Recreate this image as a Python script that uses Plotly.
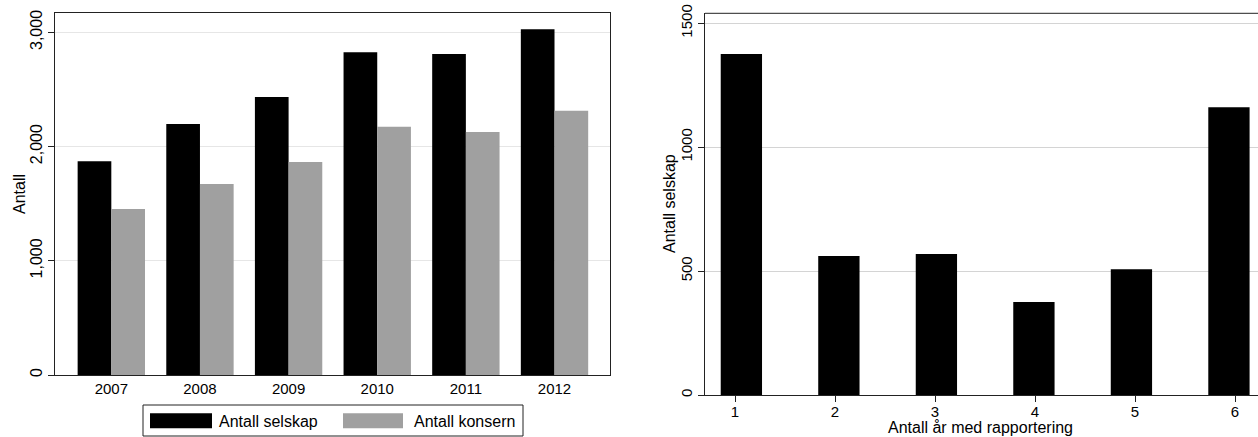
import plotly.graph_objects as go

# Figure size in px
W, H = 1258, 437

# Left panel: companies and groups per year
years = ["2007", "2008", "2009", "2010", "2011", "2012"]
antall_selskap = [1872, 2197, 2435, 2826, 2810, 3028]
antall_konsern = [1453, 1672, 1866, 2174, 2127, 2313]

# Right panel: companies by number of reporting years
rapport_aar = [1, 2, 3, 4, 5, 6]
selskap_per_aar = [1376, 561, 569, 375, 507, 1161]

left_ticks = [0, 1000, 2000, 3000]
right_ticks = [0, 500, 1000, 1500]

BLACK = "#000000"
GREY = "#a0a0a0"
FONT = "Liberation Sans, Arial, sans-serif"


def px_x(p):
    return p / W


def px_y(p):
    return 1 - p / H


fig = go.Figure()

fig.add_trace(go.Bar(x=years, y=antall_selskap, name="Antall selskap",
                     marker=dict(color=BLACK, line=dict(width=0)),
                     xaxis="x", yaxis="y"))
fig.add_trace(go.Bar(x=years, y=antall_konsern, name="Antall konsern",
                     marker=dict(color=GREY, line=dict(width=0)),
                     xaxis="x", yaxis="y"))

fig.add_trace(go.Bar(x=[str(v) for v in rapport_aar], y=selskap_per_aar,
                     name="Antall selskap", showlegend=False, width=0.4236,
                     marker=dict(color=BLACK, line=dict(width=0)),
                     xaxis="x2", yaxis="y2"))

# Invisible trace that binds the tick axis of the right panel
fig.add_trace(go.Scatter(x=[rapport_aar[0]], y=[0], mode="markers",
                         marker=dict(opacity=0), hoverinfo="skip",
                         showlegend=False, xaxis="x3", yaxis="y2"))

tick_font = dict(family=FONT, size=15, color="black")
ytick_font = dict(family=FONT, size=16, color="black")
text_font = dict(family=FONT, size=16, color="black")

fig.update_layout(
    width=W, height=H,
    margin=dict(l=0, r=0, t=0, b=0),
    paper_bgcolor="white", plot_bgcolor="white",
    font=tick_font,
    showlegend=False,
    barmode="group",
    bargap=0.24, bargroupgap=0,
    xaxis=dict(domain=[px_x(55.3), px_x(610)], anchor="y",
               type="category", range=[-0.632, 5.626],
               showline=True, linecolor="#222", linewidth=1, mirror=True,
               ticks="", showgrid=False, tickfont=tick_font,
               automargin=False),
    yaxis=dict(domain=[px_y(375), px_y(13.3)], anchor="x",
               range=[0, 3167], tickvals=left_ticks, tickformat=",",
               tickangle=-90, ticks="outside", ticklen=6, tickcolor="#222",
               showline=True, linecolor="#222", linewidth=1, mirror=True,
               showgrid=True, gridcolor="#e6e6e6", gridwidth=1,
               zeroline=False, tickfont=ytick_font, automargin=False),
    xaxis2=dict(domain=[px_x(705), 1], anchor="y2",
                type="category", range=[-0.373, 5.298],
                visible=False),
    xaxis3=dict(domain=[px_x(705), 1], anchor="y2", overlaying="x2",
                range=[0.70, 6.23], tickvals=rapport_aar,
                ticks="outside", ticklen=6, tickcolor="#222",
                ticklabelstandoff=-3,
                showline=True, linecolor="#222", linewidth=1,
                showgrid=False, zeroline=False, tickfont=tick_font,
                automargin=False),
    yaxis2=dict(domain=[px_y(395), px_y(13.3)], anchor="x2",
                range=[0, 1540], tickvals=right_ticks, tickformat="d",
                tickangle=-90, ticks="outside", ticklen=6, tickcolor="#222",
                showline=True, linecolor="#222", linewidth=1,
                showgrid=True, gridcolor="#d4d4d4", gridwidth=1,
                zeroline=False, tickfont=tick_font, automargin=False),
)

shapes = []
annotations = []

# Top border of the right panel
shapes.append(dict(type="line", xref="paper", yref="paper",
                   x0=px_x(705), x1=1, y0=px_y(13.3), y1=px_y(13.3),
                   line=dict(color="#222", width=1)))

# Legend box under the left panel
shapes.append(dict(type="rect", xref="paper", yref="paper",
                   x0=px_x(143), x1=px_x(523), y0=px_y(436), y1=px_y(405),
                   line=dict(color="#222", width=1), fillcolor="white"))
for (sx0, sx1, col, tx, label) in [
    (150, 212, BLACK, 217, "Antall selskap"),
    (343, 403, GREY, 412, "Antall konsern"),
]:
    shapes.append(dict(type="rect", xref="paper", yref="paper",
                       x0=px_x(sx0), x1=px_x(sx1),
                       y0=px_y(428.3), y1=px_y(413.3),
                       line=dict(width=0), fillcolor=col))
    annotations.append(dict(text=label, xref="paper", yref="paper",
                            x=px_x(tx), y=px_y(421), xanchor="left",
                            yanchor="middle", showarrow=False,
                            font=text_font))

# Axis titles
annotations.append(dict(text="Antall", xref="paper", yref="paper",
                        x=px_x(19), y=px_y(194), textangle=-90,
                        xanchor="center", yanchor="middle", showarrow=False,
                        font=text_font))
annotations.append(dict(text="Antall selskap", xref="paper", yref="paper",
                        x=px_x(669), y=px_y(204), textangle=-90,
                        xanchor="center", yanchor="middle", showarrow=False,
                        font=text_font))
annotations.append(dict(text="Antall år med rapportering", xref="paper",
                        yref="paper", x=px_x(980), y=px_y(427),
                        xanchor="center", yanchor="middle", showarrow=False,
                        font=text_font))

fig.update_layout(shapes=shapes, annotations=annotations)

fig.write_html("out.html")
